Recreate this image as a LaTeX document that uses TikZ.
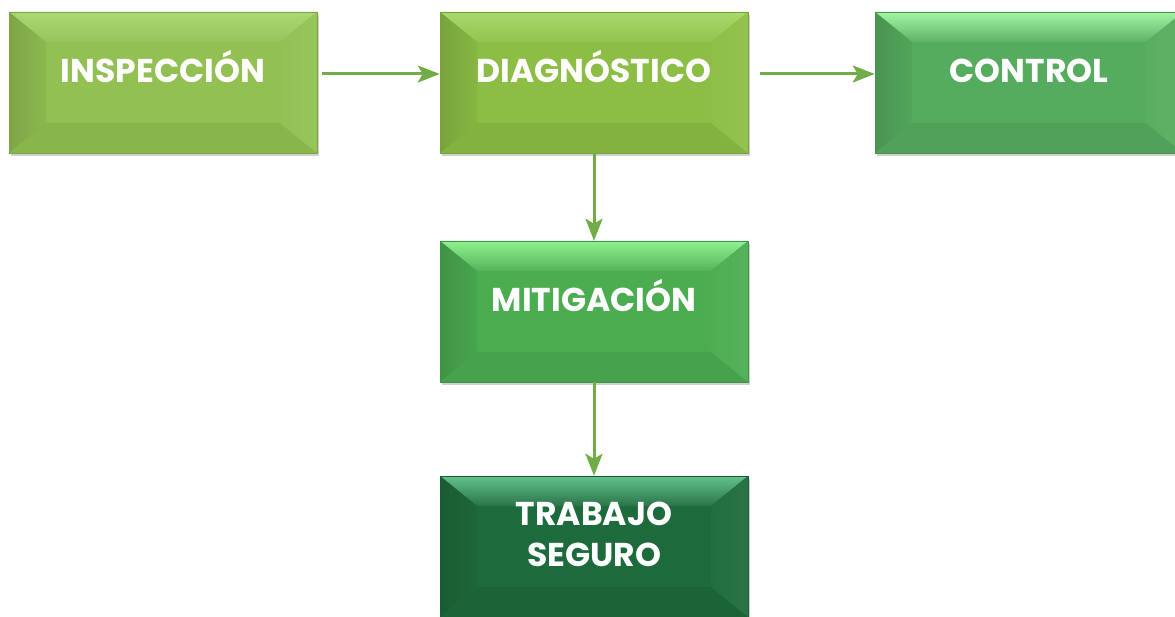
\documentclass[tikz,border=0pt]{standalone}
\usepackage{fontspec}
\setmainfont{Poppins}
\usetikzlibrary{arrows.meta,shadows,calc}
\definecolor{arrowgreen}{HTML}{70AD47}
\definecolor{insbase}{HTML}{92C052}
\definecolor{inslight}{HTML}{AAD872}
\definecolor{diabase}{HTML}{8CBE45}
\definecolor{dialight}{HTML}{A8DA6A}
\definecolor{conbase}{HTML}{56AC5E}
\definecolor{conlight}{HTML}{A2F6A2}
\definecolor{mitbase}{HTML}{4BAC50}
\definecolor{mitlight}{HTML}{8FF290}
\definecolor{trabase}{HTML}{1D6B3C}
\definecolor{tralight}{HTML}{62C28C}
\tikzset{
  bevbox/.style 2 args={rectangle, minimum width=308pt, minimum height=141pt,
    inner sep=0pt, fill=#1, draw=#1!85!black, line width=0.5pt,
    text=white, font=\bfseries\fontsize{33}{41}\selectfont, align=center,
    drop shadow={shadow xshift=2pt, shadow yshift=-3pt, opacity=0.3, fill=black!60},
    path picture={
      \coordinate (sw) at (path picture bounding box.south west);
      \coordinate (ne) at (path picture bounding box.north east);
      \coordinate (nw) at (sw|-ne);
      \coordinate (se) at (ne|-sw);
      \coordinate (isw) at ($(sw)+(37pt,30pt)$);
      \coordinate (ine) at ($(ne)+(-37pt,-30pt)$);
      \coordinate (inw) at (isw|-ine);
      \coordinate (ise) at (ine|-isw);
      \shade[top color=#2, bottom color=#1!94!white] (nw) -- (ne) -- (ine) -- (inw) -- cycle;
      \shade[left color=#1!86!black, right color=#1!96!black] (nw) -- (inw) -- (isw) -- (sw) -- cycle;
      \fill[#1!94!black] (sw) -- (isw) -- (ise) -- (se) -- cycle;
      \shade[left color=#1!98!white, right color=#1!94!white] (ne) -- (se) -- (ise) -- (ine) -- cycle;
    }},
  flow/.style={draw=arrowgreen, line width=3pt,
    -{Stealth[length=22pt, width=17pt, inset=5pt]}}
}
\begin{document}
\begin{tikzpicture}[x=1pt, y=-1pt]
  \useasboundingbox (0,0) rectangle (1175,617);
  \node[bevbox={insbase}{inslight}, text height=20pt, text depth=20pt] (ins) at (163,82.5) {INSPECCIÓN};
  \node[bevbox={diabase}{dialight}, text height=20pt, text depth=20pt] (dia) at (594,82.5) {DIAGNÓSTICO};
  \node[bevbox={conbase}{conlight}, text height=20pt, text depth=20pt] (con) at (1029,82.5) {CONTROL};
  \node[bevbox={mitbase}{mitlight}, text height=20pt, text depth=20pt] (mit) at (594,311.5) {MITIGACIÓN};
  \node[bevbox={trabase}{tralight}, text height=59pt, text depth=20pt] (tra) at (594,546.5) {TRABAJO\\SEGURO};
  \draw[flow, shorten <=5pt] (ins.east|-0,74) -- (dia.west|-0,74);
  \draw[flow, shorten <=12pt] (dia.east|-0,74) -- (con.west|-0,74);
  \draw[flow] (dia.south) -- (mit.north);
  \draw[flow] (mit.south) -- (tra.north);
\end{tikzpicture}
\end{document}
